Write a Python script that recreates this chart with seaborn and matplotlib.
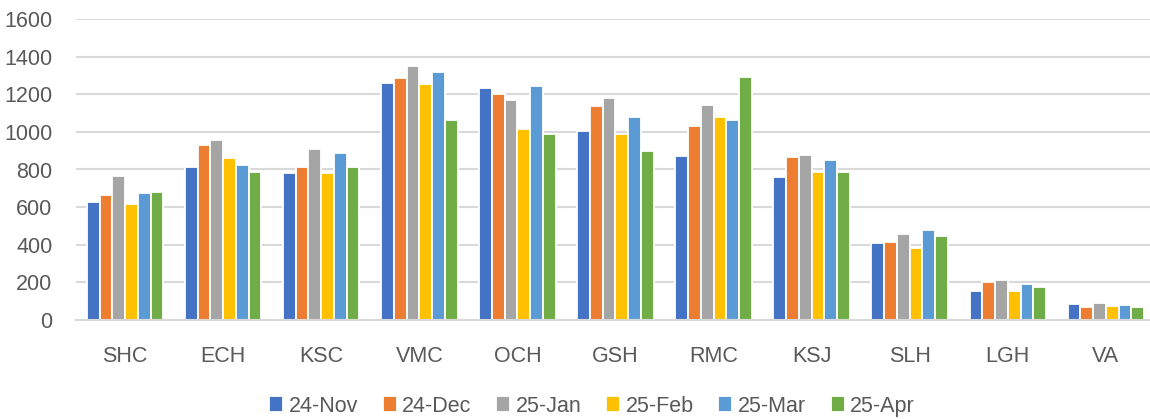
import pandas as pd
import seaborn as sns
import matplotlib.pyplot as plt

# categories et mois
sites = ['SHC', 'ECH', 'KSC', 'VMC', 'OCH', 'GSH', 'RMC', 'KSJ', 'SLH', 'LGH', 'VA']
months = ['24-Nov', '24-Dec', '25-Jan', '25-Feb', '25-Mar', '25-Apr']

# valeurs
nov = [626, 813, 779, 1261, 1235, 1002, 871, 758, 410, 155, 85]
dec = [662, 931, 813, 1288, 1201, 1135, 1031, 868, 414, 202, 71]
jan = [768, 956, 910, 1350, 1167, 1180, 1143, 876, 458, 210, 89]
feb = [618, 861, 782, 1254, 1017, 990, 1079, 788, 383, 153, 75]
mar = [674, 823, 887, 1320, 1245, 1080, 1065, 853, 476, 190, 78]
apr = [683, 788, 813, 1061, 990, 898, 1293, 786, 445, 174, 71]

colors = ['#4472C4', '#ED7D31', '#A5A5A5', '#FFC000', '#5B9BD5', '#70AD47']

rows = []
for m, vals in zip(months, [nov, dec, jan, feb, mar, apr]):
    for s, v in zip(sites, vals):
        rows.append({'Site': s, 'Mois': m, 'Valeur': v})
df = pd.DataFrame(rows)

sns.set_style('white')
plt.rcParams['font.family'] = ['Liberation Sans', 'DejaVu Sans']

fig = plt.figure(figsize=(11.5, 4.19), dpi=100)
ax = fig.add_axes([76 / 1150, 99 / 419, 1074 / 1150, 301 / 419])

sns.barplot(data=df, x='Site', y='Valeur', hue='Mois', order=sites, hue_order=months,
            palette=colors, width=0.78, edgecolor='white', linewidth=1.3,
            saturation=1, ax=ax, legend=True)

ax.set_ylim(0, 1600)
ax.set_xlim(-0.5, 10.45)
ax.set_yticks(range(0, 1601, 200))
ax.yaxis.grid(True, color='#D9D9D9', linewidth=1.5)
ax.set_axisbelow(True)
for side in ['top', 'right', 'left']:
    ax.spines[side].set_visible(False)
ax.spines['bottom'].set_color('#D9D9D9')
ax.spines['bottom'].set_linewidth(1.5)
ax.set_xlabel('')
ax.set_ylabel('')
ax.tick_params(axis='both', length=0, labelsize=15.5, colors='#595959')
ax.tick_params(axis='x', pad=19)
ax.tick_params(axis='y', pad=17)

handles, labels = ax.get_legend_handles_labels()
ax.get_legend().remove()
fig.legend(handles, labels, loc='center', bbox_to_anchor=(592 / 1150, 13 / 419), ncol=6,
           frameon=False, fontsize=15.5, labelcolor='#595959',
           handlelength=0.65, handleheight=0.7, handletextpad=0.25, columnspacing=1.15)

fig.savefig('out.png', dpi=100)
